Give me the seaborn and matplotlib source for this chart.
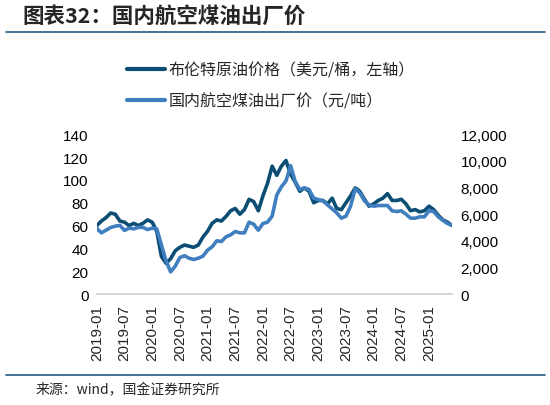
import numpy as np
import pandas as pd
import seaborn as sns
import matplotlib.pyplot as plt
from matplotlib.ticker import FuncFormatter
from matplotlib.lines import Line2D

sns.set_theme(style="white")
plt.rcParams['font.family'] = ['Noto Sans CJK SC', 'DejaVu Sans']

# monthly, 2019-01 .. 2025-06
months = pd.period_range("2019-01", "2025-06", freq="M").strftime("%Y-%m").tolist()

brent = [60, 64, 67, 71, 70, 64, 63, 60, 62, 60, 62, 65,
         63, 55, 33, 27, 31, 38, 41, 43, 42, 41, 43, 50,
         55, 62, 65, 64, 68, 73, 75, 70, 74, 83, 81, 73,
         86, 97, 112, 104, 112, 117, 105, 98, 90, 93, 90, 80,
         82, 82, 79, 84, 75, 74, 80, 86, 93, 90, 83, 77,
         79, 82, 84, 88, 82, 82, 83, 79, 73, 74, 72, 73,
         77, 74, 69, 65, 63, 60]

jet_fuel = [4936, 4600, 4800, 5000, 5100, 5160, 4780, 4950, 4900, 5010, 5010, 4850,
            4950, 4900, 3700, 2500, 1670, 2100, 2750, 2880, 2700, 2600, 2700, 2850,
            3300, 3550, 4000, 3950, 4300, 4450, 4700, 4600, 4600, 5400, 5250, 4800,
            5300, 5400, 5850, 7440, 8050, 8500, 9640, 8450, 7850, 7970, 7850, 7200,
            7100, 7000, 6700, 6400, 6100, 5700, 5850, 6600, 7900, 7600, 7000, 6700,
            6600, 6650, 6650, 6650, 6250, 6200, 6250, 6000, 5700, 5700, 5800, 5800,
            6250, 6200, 5800, 5540, 5300, 5160]

label_brent = "布伦特原油价格（美元/桶，左轴）"
label_jet = "国内航空煤油出厂价（元/吨）"
title = "图表32：国内航空煤油出厂价"
source = "来源：wind，国金证券研究所"

dark = "#0b4d73"
light = "#3f7fc0"
num_font = ['Liberation Sans', 'DejaVu Sans']

df = pd.DataFrame({"idx": np.arange(len(months)), "month": months,
                   "brent": brent, "jet": jet_fuel})

fig = plt.figure(figsize=(5.5, 4.06), dpi=100)
ax = fig.add_axes([0.176, 0.273, 0.646, 0.394])
ax2 = ax.twinx()

sns.lineplot(data=df, x="idx", y="brent", ax=ax, color=dark, linewidth=2.6)
sns.lineplot(data=df, x="idx", y="jet", ax=ax2, color=light, linewidth=2.6)

ax.set_xlim(0, len(months) - 1)
ax.set_ylim(0, 140)
ax.set_yticks(range(0, 141, 20))
ax2.set_ylim(0, 12000)
ax2.set_yticks(range(0, 12001, 2000))
ax2.yaxis.set_major_formatter(FuncFormatter(lambda v, p: f"{int(v):,}"))

tick_pos = list(range(0, len(months), 6)) + [len(months) - 1]
ax.set_xticks(tick_pos)
ax.set_xticklabels([months[i] for i in range(0, len(months), 6)] + [""],
                   rotation=90)
ax.set_xlabel("")
ax.set_ylabel("")
ax2.set_ylabel("")

for a in (ax, ax2):
    for s in ("top", "left", "right"):
        a.spines[s].set_visible(False)
    a.tick_params(axis="y", length=0, labelsize=11, colors="black", pad=6)
    for t in a.get_xticklabels() + a.get_yticklabels():
        t.set_family(num_font)
        t.set_fontsize(11)
ax2.spines["bottom"].set_visible(False)
ax.spines["bottom"].set_color("#d0d0d0")
ax.tick_params(axis="x", length=5, color="#d0d0d0", direction="out", pad=2)
ax.grid(False)
ax2.grid(False)

handles = [Line2D([], [], color=dark, linewidth=3),
           Line2D([], [], color=light, linewidth=3)]
fig.legend(handles, [label_brent, label_jet], loc="center left",
           bbox_to_anchor=(0.205, 0.787), frameon=False, fontsize=11.5,
           handlelength=2.4, handletextpad=0.2, labelspacing=0.85)

fig.text(0.04, 0.96, title, fontsize=15.5, fontweight="bold", fontstyle="italic",
         va="center", ha="left")
fig.add_artist(Line2D([0.01, 0.99], [0.918, 0.918], color="#1f5a85", linewidth=1.2))
fig.add_artist(Line2D([0.01, 0.99], [0.074, 0.074], color="#1f5a85", linewidth=1.2))
fig.text(0.065, 0.038, source, fontsize=10, va="center", ha="left")

fig.savefig("out.png", dpi=100)
